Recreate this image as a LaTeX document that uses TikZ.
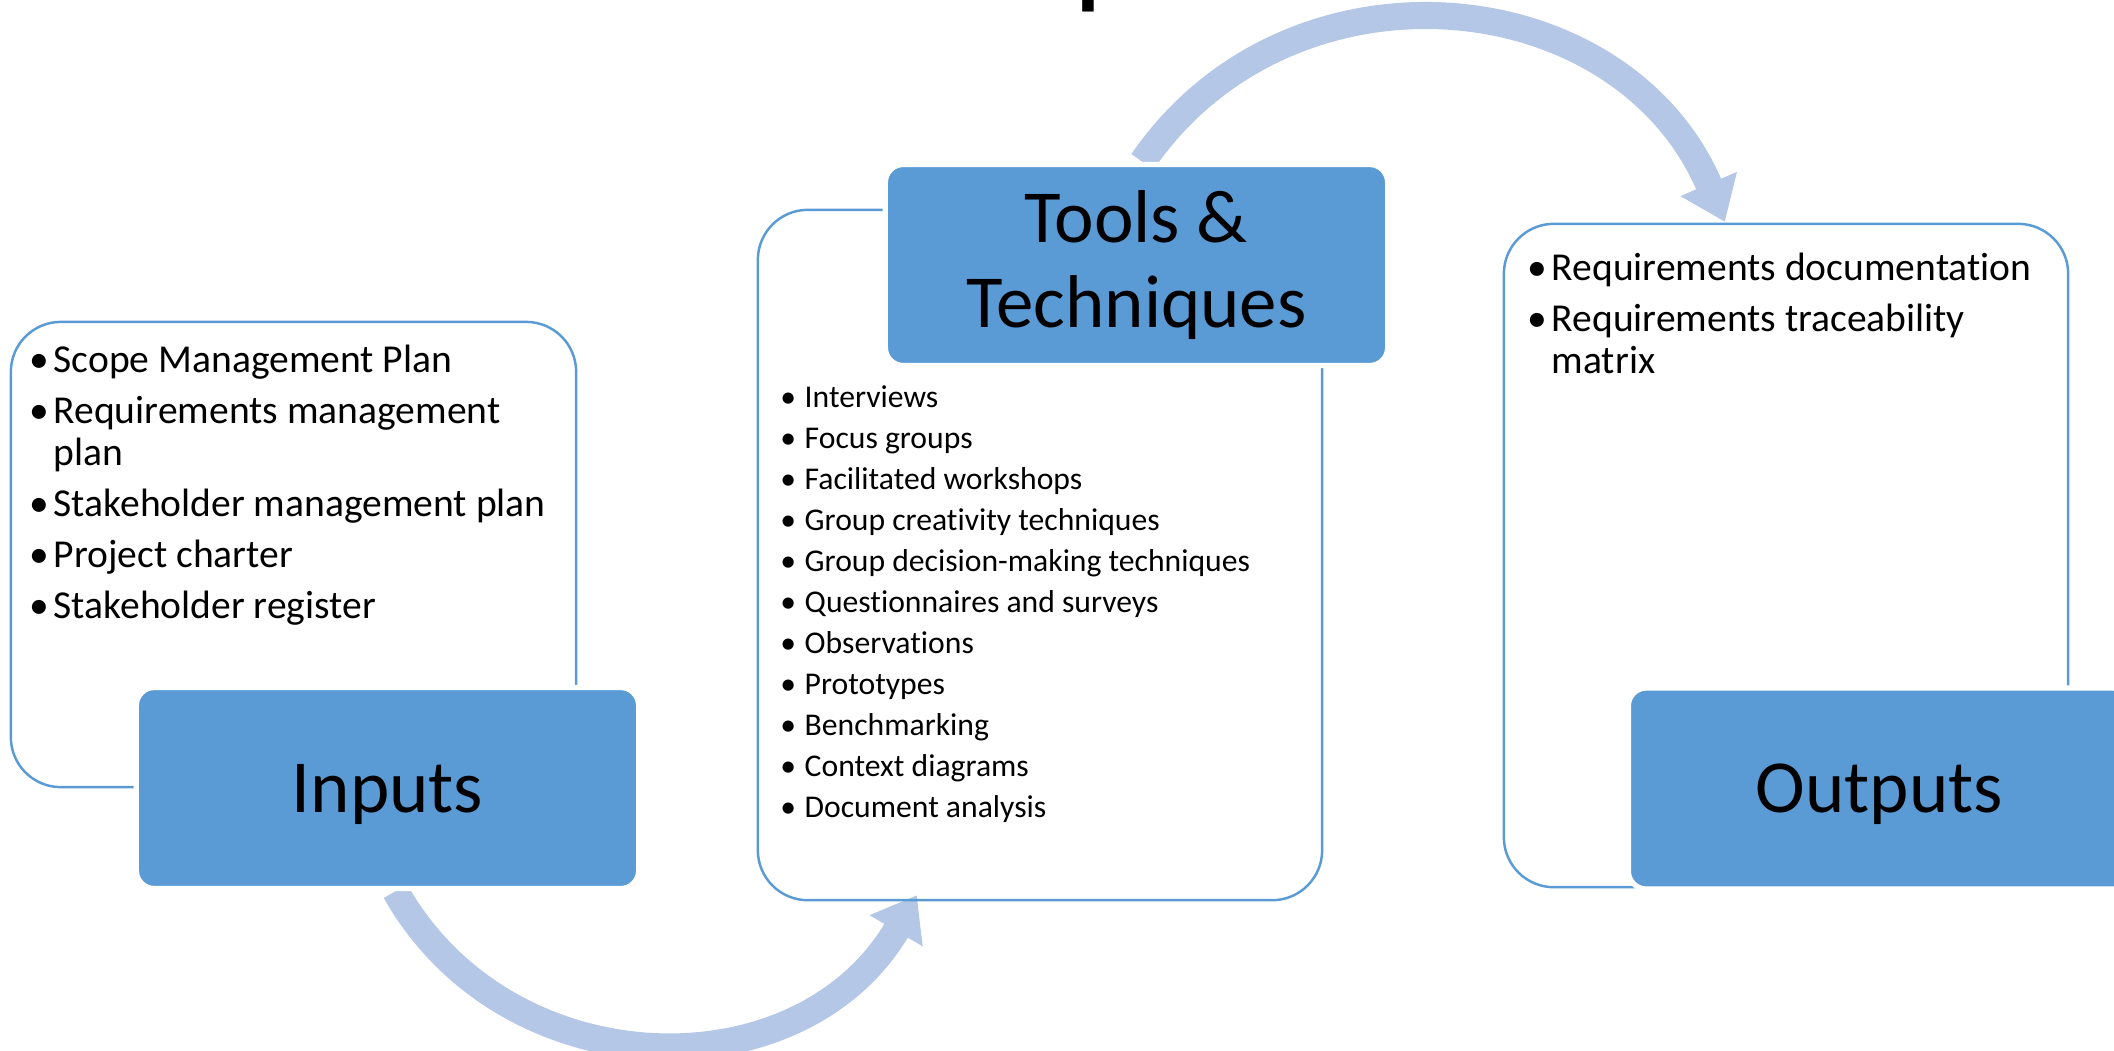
\documentclass[tikz,border=0pt]{standalone}
\usepackage{fontspec}
\setmainfont{Carlito}[Ligatures=NoCommon]
\usetikzlibrary{arrows.meta,calc,backgrounds}

\definecolor{boxblue}{HTML}{5B9BD5}
\definecolor{arcblue}{HTML}{B4C7E7}

\newcommand{\bul}{\makebox[7.4pt][l]{\hspace{0.5pt}\textbullet}}
\newcommand{\nob}{\hspace*{7.4pt}}

\begin{document}
\begin{tikzpicture}[x=0.01cm,y=-0.01cm]
  \tikzset{card/.style={draw=boxblue, line width=0.7pt, rounded corners=0.5cm, inner sep=0pt, outer sep=0pt},
    stage/.style={fill=boxblue, draw=white, line width=1.5pt, rounded corners=0.18cm, inner sep=0pt,
      minimum width=5.02cm, minimum height=2.01cm, align=center, font=\fontsize{21.3}{23.9}\selectfont},
    biglist/.style={inner sep=0pt, anchor=base west, font=\fontsize{11.25}{12.2}\selectfont},
    smalllist/.style={inner sep=0pt, anchor=base west, font=\fontsize{9}{11.66}\selectfont},
    flow/.style={draw=arcblue, line width=7.7pt, -{Triangle[width=16.7pt,length=11.7pt]}}}
  \useasboundingbox (0,0) rectangle (2114,1050);
  \node[inner sep=0pt, anchor=base west, font=\fontsize{38}{38}\selectfont] (title) at (1073,-10) {p};
  \node[card, minimum width=5.65cm, minimum height=4.65cm] (incard) at (293.5,554.5) {};
  \node[card, minimum width=5.64cm, minimum height=6.9cm] (toolcard) at (1040,555) {};
  \node[card, minimum width=5.64cm, minimum height=6.63cm] (outcard) at (1786,555.5) {};
  \node[stage, text depth=0pt] (inputs) at (387.5,788) {Inputs};
  \node[stage] (tools) at (1136.5,265) {Tools \&\\Techniques};
  \node[stage, text depth=0pt] (outputs) at (1879.5,788.5) {Outputs};
  \node[biglist] (inlist) at (27,372) {\begin{tabular}[t]{@{}l@{}}
      \bul Scope Management Plan\\[2.3pt]
      \bul Requirements management\\
      \nob plan\\[2.3pt]
      \bul Stakeholder management plan\\[2.3pt]
      \bul Project charter\\[2.3pt]
      \bul Stakeholder register
    \end{tabular}};
  \node[smalllist] (toollist) at (778,407) {\begin{tabular}[t]{@{}l@{}}
      \bul Interviews\\
      \bul Focus groups\\
      \bul Facilitated workshops\\
      \bul Group creativity techniques\\
      \bul Group decision-making techniques\\
      \bul Questionnaires and surveys\\
      \bul Observations\\
      \bul Prototypes\\
      \bul Benchmarking\\
      \bul Context diagrams\\
      \bul Document analysis
    \end{tabular}};
  \node[biglist] (outlist) at (1525,280) {\begin{tabular}[t]{@{}l@{}}
      \bul Requirements documentation\\[2.3pt]
      \bul Requirements traceability\\
      \nob matrix
    \end{tabular}};
  \coordinate (intip) at ($(toolcard.south west)+(159,-5)$);
  \coordinate (outtip) at ($(outcard.north west)+(221,-2)$);
  \begin{scope}[on background layer]
    \draw[flow] ($(inputs.south)+(8,0)$) .. controls (507,1089) and (800,1095) .. (intip);
    \draw[flow] ($(tools.north)+(6,0)$) .. controls (1289,-52) and (1621,-21) .. (outtip);
  \end{scope}
\end{tikzpicture}
\end{document}
